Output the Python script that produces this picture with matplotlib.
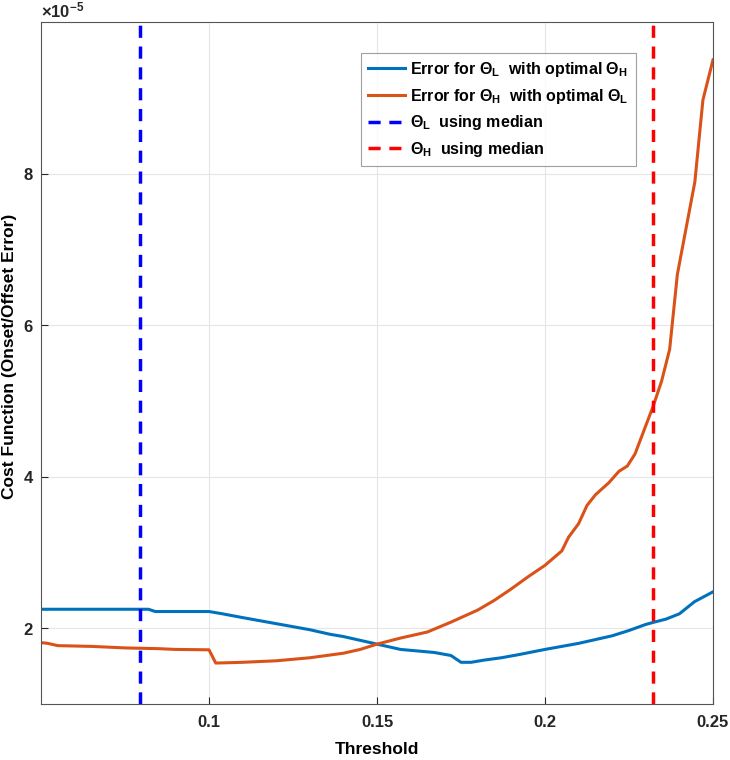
import numpy as np
import matplotlib
matplotlib.use("Agg")
import matplotlib.pyplot as plt

plt.rcParams['font.family'] = ['Liberation Sans', 'DejaVu Sans']
plt.rcParams['font.weight'] = 'bold'
plt.rcParams['mathtext.fontset'] = 'custom'
plt.rcParams['mathtext.bf'] = 'Liberation Sans:bold'
plt.rcParams['mathtext.rm'] = 'Liberation Sans:bold'
plt.rcParams['mathtext.it'] = 'Liberation Sans:bold'

# ---- data (cost values in units of 1e-5) ----
thr_L = [0.05, 0.082, 0.084, 0.1, 0.104, 0.11, 0.12, 0.13, 0.136, 0.14, 0.145,
         0.15, 0.157, 0.162, 0.167, 0.172, 0.175, 0.178, 0.182, 0.187, 0.192,
         0.2, 0.205, 0.21, 0.215, 0.22, 0.225, 0.23, 0.2325, 0.236, 0.24,
         0.2445, 0.25]
err_L = [2.25, 2.25, 2.22, 2.22, 2.19, 2.14, 2.06, 1.98, 1.92, 1.89, 1.84,
         1.79, 1.72, 1.70, 1.68, 1.64, 1.55, 1.55, 1.58, 1.61, 1.65,
         1.72, 1.76, 1.80, 1.85, 1.90, 1.97, 2.05, 2.08, 2.12, 2.19,
         2.35, 2.48]

thr_H = [0.05, 0.052, 0.055, 0.065, 0.075, 0.085, 0.09, 0.1, 0.102, 0.11,
         0.12, 0.125, 0.13, 0.135, 0.14, 0.145, 0.15, 0.157, 0.165, 0.172,
         0.18, 0.185, 0.19, 0.195, 0.2, 0.205, 0.207, 0.21, 0.2125, 0.215,
         0.219, 0.222, 0.2245, 0.2268, 0.2298, 0.2322, 0.2347, 0.2371, 0.2394,
         0.2446, 0.247, 0.25]
err_H = [1.81, 1.80, 1.77, 1.76, 1.74, 1.73, 1.72, 1.715, 1.54, 1.55,
         1.57, 1.59, 1.61, 1.64, 1.67, 1.72, 1.79, 1.87, 1.95, 2.08,
         2.24, 2.37, 2.52, 2.68, 2.83, 3.02, 3.20, 3.38, 3.62, 3.76,
         3.92, 4.07, 4.14, 4.30, 4.65, 4.93, 5.26, 5.68, 6.67,
         7.89, 8.97, 9.50]

median_L = 0.0795
median_H = 0.2322

scale = 1e-5
x_ticks = [0.1, 0.15, 0.2, 0.25]
x_ticklabels = ['0.1', '0.15', '0.2', '0.25']
y_ticks = [2, 4, 6, 8]

# ---- figure ----
fig = plt.figure(figsize=(7.3, 7.6), dpi=100)
ax = fig.add_axes([0.0562, 0.0737, 0.9205, 0.8974])

ax.plot(thr_L, np.array(err_L) * scale, color='#0072BD', lw=2.2,
        label=r'Error for $\mathbf{\Theta_L}$  with optimal $\mathbf{\Theta_H}$')
ax.plot(thr_H, np.array(err_H) * scale, color='#D95319', lw=2.2,
        label=r'Error for $\mathbf{\Theta_H}$  with optimal $\mathbf{\Theta_L}$')
ax.axvline(median_L, color='#0000FF', ls=(0, (3.5, 2.5)), lw=2.5,
           label=r'$\mathbf{\Theta_L}$  using median')
ax.axvline(median_H, color='#FF0000', ls=(0, (3.5, 2.5)), lw=2.5,
           label=r'$\mathbf{\Theta_H}$  using median')

ax.set_xlim(0.05, 0.25)
ax.set_ylim(1e-5, 1e-4)
ax.set_xticks(x_ticks)
ax.set_xticklabels(x_ticklabels)
ax.set_yticks(np.array(y_ticks) * scale)
ax.ticklabel_format(axis='y', style='sci', scilimits=(0, 0), useMathText=True)
ax.yaxis.get_offset_text().set_fontsize(12)
ax.yaxis.get_offset_text().set_fontweight('bold')

ax.grid(True, color='#e6e6e6', lw=0.8)
ax.tick_params(direction='in', length=5, labelsize=12, colors='#262626')
ax.tick_params(axis='x', pad=8)
ax.tick_params(axis='y', pad=5)
for s in ax.spines.values():
    s.set_color('#555555')
    s.set_linewidth(0.8)

ax.set_xlabel('Threshold', fontsize=12.5, fontweight='bold')
ax.xaxis.set_label_coords(0.5, -0.056)
ax.set_ylabel('Cost Function (Onset/Offset Error)', fontsize=12.5,
              fontweight='bold')
ax.yaxis.set_label_coords(-0.036, 0.51)

leg = ax.legend(loc='upper left', bbox_to_anchor=(0.476, 0.955), fontsize=11.5,
                frameon=True, fancybox=False, edgecolor='#888888',
                handlelength=2.3, borderpad=0.45, labelspacing=0.48,
                handletextpad=0.35, borderaxespad=0)
leg.get_frame().set_linewidth(0.8)

fig.savefig('out.png', dpi=100)
